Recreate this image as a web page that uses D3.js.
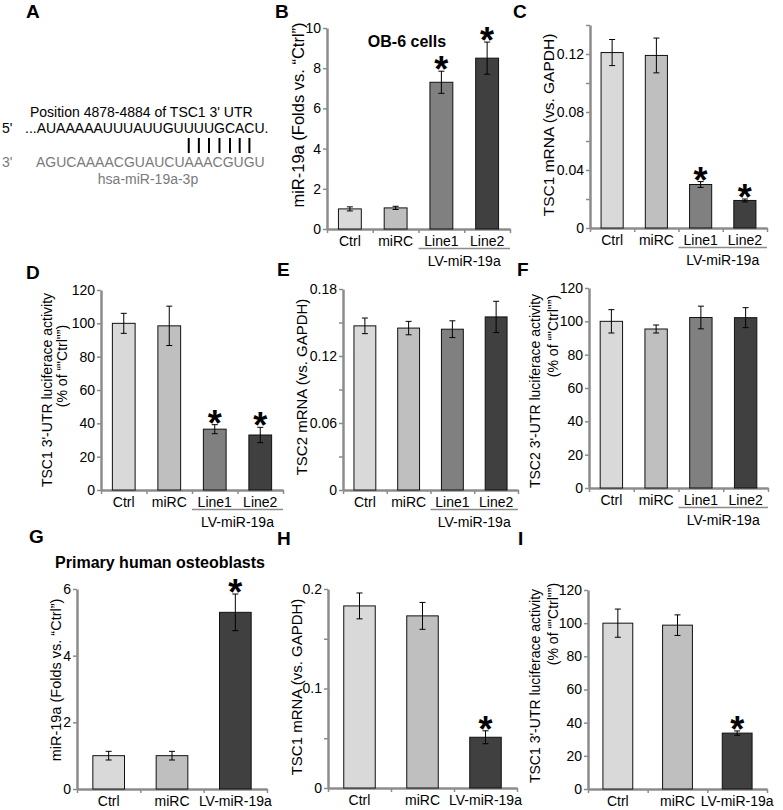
<!DOCTYPE html>
<html><head><meta charset="utf-8">
<script src="https://cdn.jsdelivr.net/npm/d3@7"></script>
<style>
body{margin:0;background:#fff}
text{font-family:Arial,"Liberation Sans",sans-serif;fill:#000}
</style>
</head><body>
<svg id="fig" width="783" height="810"></svg>
<script>
// ---------------- DATA ----------------
const catsOB = ["Ctrl", "miRC", "Line1", "Line2"];
const catsPrim = ["Ctrl", "miRC", "LV-miR-19a"];
const colorsOB = ["#d9d9d9", "#bfbfbf", "#808080", "#404040"];
const colorsPrim = ["#d9d9d9", "#bfbfbf", "#404040"];
const groupLabel = "LV-miR-19a";

// B: miR-19a in OB-6 cells
const mir19aOB = [1.0, 1.05, 7.3, 8.5];
const mir19aOBErr = [0.1, 0.08, 0.55, 0.8];
const mir19aOBSig = [false, false, true, true];
const mir19aOBTicks = [0, 2, 4, 6, 8, 10];

// C: TSC1 mRNA in OB-6
const tsc1OB = [0.121, 0.119, 0.030, 0.019];
const tsc1OBErr = [0.009, 0.012, 0.002, 0.001];
const tsc1OBSig = [false, false, true, true];
const tsc1OBTicks = [0, 0.04, 0.08, 0.12];
const tsc1OBMinor = [0.02, 0.06, 0.10, 0.14];

// D: TSC1 3'-UTR luciferase in OB-6
const tsc1LucOB = [100, 98.5, 36.5, 33];
const tsc1LucOBErr = [6, 11.8, 2.7, 4.6];
const tsc1LucOBSig = [false, false, true, true];
const pctTicks = [0, 20, 40, 60, 80, 100, 120];

// E: TSC2 mRNA in OB-6
const tsc2OB = [0.147, 0.145, 0.144, 0.155];
const tsc2OBErr = [0.007, 0.006, 0.0075, 0.014];
const tsc2OBSig = [false, false, false, false];
const tsc2OBTicks = [0, 0.06, 0.12, 0.18];
const tsc2OBMinor = [0.03, 0.09, 0.15];

// F: TSC2 3'-UTR luciferase in OB-6
const tsc2LucOB = [100, 95.4, 102.3, 102.2];
const tsc2LucOBErr = [7, 2.4, 6.8, 6];
const tsc2LucOBSig = [false, false, false, false];

// G: miR-19a in primary human osteoblasts
const mir19aPrim = [1.0, 1.0, 5.3];
const mir19aPrimErr = [0.13, 0.13, 0.55];
const mir19aPrimSig = [false, false, true];
const mir19aPrimTicks = [0, 2, 4, 6];

// H: TSC1 mRNA in primary osteoblasts
const tsc1Prim = [0.183, 0.173, 0.051];
const tsc1PrimErr = [0.013, 0.0135, 0.0065];
const tsc1PrimSig = [false, false, true];
const tsc1PrimTicks = [0, 0.1, 0.2];
const tsc1PrimMinor = [0.05, 0.15];

// I: TSC1 3'-UTR luciferase in primary osteoblasts
const tsc1LucPrim = [100, 98.8, 33.7];
const tsc1LucPrimErr = [8.5, 6.2, 1.3];
const tsc1LucPrimSig = [false, false, true];

// Panel A sequence texts
const seqTitle = "Position 4878-4884 of TSC1 3' UTR";
const seqTop = "...AUAAAAAUUUAUUGUUUUGCACU.";
const seqBottom = "AGUCAAAACGUAUCUAAACGUGU";
const seqMirName = "hsa-miR-19a-3p";
const pairedIdx = [18, 19, 20, 21, 22, 23, 24];

// ---------------- DRAWING ----------------
const svg = d3.select("#fig");
const AXIS = "#8c8c8c";

function panel(o) {
  const g = svg.append("g");
  const n = o.cats.length;
  const x = d3.scaleBand().domain(o.cats).range([o.x0, o.x1]).paddingInner(0.5).paddingOuter(0.25);
  const y = d3.scaleLinear().domain(o.domain).range([o.y0, o.yTop]);
  const rows = o.cats.map((c, i) => ({c, v: o.vals[i], e: o.errs[i], s: o.sig[i], col: o.colors[i]}));

  // y axis
  const allTicks = o.labeled.concat(o.minor || []).sort((a, b) => a - b);
  const yAx = g.append("g").attr("transform", `translate(${o.x0},0)`)
    .call(d3.axisLeft(y).tickValues(allTicks).tickSize(4).tickSizeOuter(0).tickPadding(2)
      .tickFormat(d => o.labeled.some(t => Math.abs(t - d) < 1e-9) ? o.fmt(d) : ""));
  yAx.select(".domain").attr("stroke", AXIS).attr("stroke-width", 2.5);
  yAx.selectAll(".tick line").attr("stroke", AXIS).attr("stroke-width", 1.5);
  yAx.selectAll(".tick text").attr("font-size", 14).attr("font-family", "Arial, 'Liberation Sans', sans-serif").attr("fill", "#000");

  // x axis with ticks at category boundaries
  const xb = d3.scaleLinear().domain([0, n]).range([o.x0, o.x1]);
  const xAx = g.append("g").attr("transform", `translate(0,${o.y0})`)
    .call(d3.axisBottom(xb).tickValues(d3.range(n + 1)).tickSize(4).tickSizeOuter(0).tickFormat(""));
  xAx.select(".domain").attr("stroke", AXIS).attr("stroke-width", 2.5);
  xAx.selectAll(".tick line").attr("stroke", AXIS).attr("stroke-width", 1.5);

  // bars
  g.selectAll("rect.bar").data(rows).join("rect").attr("class", "bar")
    .attr("x", d => x(d.c)).attr("width", x.bandwidth())
    .attr("y", d => y(d.v)).attr("height", d => y(0) - y(d.v))
    .attr("fill", d => d.col).attr("stroke", "#111").attr("stroke-width", 1);

  // error bars
  const cap = 3;
  const eb = g.selectAll("g.err").data(rows).join("g").attr("class", "err")
    .attr("transform", d => `translate(${x(d.c) + x.bandwidth() / 2},0)`);
  eb.append("line").attr("y1", d => y(d.v - d.e)).attr("y2", d => y(d.v + d.e)).attr("stroke", "#000");
  eb.append("line").attr("x1", -cap).attr("x2", cap).attr("y1", d => y(d.v + d.e)).attr("y2", d => y(d.v + d.e)).attr("stroke", "#000");
  eb.append("line").attr("x1", -cap).attr("x2", cap).attr("y1", d => y(d.v - d.e)).attr("y2", d => y(d.v - d.e)).attr("stroke", "#000");

  // significance stars
  g.selectAll("text.star").data(rows.filter(d => d.s)).join("text").attr("class", "star")
    .attr("x", d => x(d.c) + x.bandwidth() / 2).attr("y", d => y(d.v + d.e) + 11)
    .attr("text-anchor", "middle").attr("font-size", 36).attr("font-weight", "bold").text("*");

  // category labels
  g.selectAll("text.cat").data(rows).join("text").attr("class", "cat")
    .attr("x", d => x(d.c) + x.bandwidth() / 2).attr("y", o.y0 + 17)
    .attr("text-anchor", "middle").attr("font-size", 14).text(d => d.c);

  // group label
  if (o.group) {
    const gx0 = xb(2), gx1 = xb(4);
    g.append("line").attr("x1", gx0).attr("x2", gx1).attr("y1", o.y0 + 19.5).attr("y2", o.y0 + 19.5)
      .attr("stroke", AXIS).attr("stroke-width", 1.5);
    g.append("text").attr("x", (gx0 + gx1) / 2).attr("y", o.y0 + 37).attr("text-anchor", "middle")
      .attr("font-size", 14).text(groupLabel);
  }

  // y label (one or two lines)
  o.ylab.forEach((l, i) => {
    g.append("text").attr("transform", `translate(${l.x},${l.y}) rotate(-90)`)
      .attr("text-anchor", "middle").attr("dy", "0.35em").attr("font-size", l.fs || 15).text(l.t);
  });

  // title
  if (o.title) {
    g.append("text").attr("x", o.title.x).attr("y", o.title.y).attr("text-anchor", "middle")
      .attr("font-size", 16).attr("font-weight", "bold").text(o.title.t);
  }
}

const f0 = d => d3.format("")(d);
const fdec = d => d === 0 ? "0" : String(+d.toFixed(3));

panel({cats: catsOB, vals: mir19aOB, errs: mir19aOBErr, sig: mir19aOBSig, colors: colorsOB,
  domain: [0, 10], labeled: mir19aOBTicks, fmt: f0, x0: 327, x1: 510, y0: 229, yTop: 28, group: true,
  ylab: [{t: "miR-19a (Folds vs. \u201cCtrl\u201d)", x: 298, y: 115, fs: 16.5}],
  title: {t: "OB-6 cells", x: 407, y: 47}});

panel({cats: catsOB, vals: tsc1OB, errs: tsc1OBErr, sig: tsc1OBSig, colors: colorsOB,
  domain: [0, 0.14], labeled: tsc1OBTicks, minor: tsc1OBMinor, fmt: fdec, x0: 590, x1: 767, y0: 228, yTop: 25, group: true,
  ylab: [{t: "TSC1 mRNA (vs. GAPDH)", x: 549, y: 125, fs: 15.5}]});

panel({cats: catsOB, vals: tsc1LucOB, errs: tsc1LucOBErr, sig: tsc1LucOBSig, colors: colorsOB,
  domain: [0, 120], labeled: pctTicks, fmt: f0, x0: 101, x1: 283, y0: 490, yTop: 290, group: true,
  ylab: [{t: "TSC1 3'-UTR luciferace activity", x: 47, y: 390, fs: 14},
         {t: "(% of \u201c\"Ctrl\"\u201d)", x: 62, y: 366, fs: 14}]});

panel({cats: catsOB, vals: tsc2OB, errs: tsc2OBErr, sig: tsc2OBSig, colors: colorsOB,
  domain: [0, 0.18], labeled: tsc2OBTicks, minor: tsc2OBMinor, fmt: fdec, x0: 343, x1: 518, y0: 490, yTop: 289, group: true,
  ylab: [{t: "TSC2 mRNA (vs. GAPDH)", x: 302, y: 387, fs: 15}]});

panel({cats: catsOB, vals: tsc2LucOB, errs: tsc2LucOBErr, sig: tsc2LucOBSig, colors: colorsOB,
  domain: [0, 120], labeled: pctTicks, fmt: f0, x0: 589, x1: 768, y0: 488, yTop: 288, group: true,
  ylab: [{t: "TSC2 3'-UTR luciferace activity", x: 535, y: 391, fs: 14},
         {t: "(% of \u201c\"Ctrl\"\u201d)", x: 553, y: 336, fs: 14}]});

panel({cats: catsPrim, vals: mir19aPrim, errs: mir19aPrimErr, sig: mir19aPrimSig, colors: colorsPrim,
  domain: [0, 6], labeled: mir19aPrimTicks, fmt: f0, x0: 77, x1: 267, y0: 789, yTop: 589, group: false,
  ylab: [{t: "miR-19a (Folds vs. \u201cCtrl\u201d)", x: 56, y: 680, fs: 14.5}],
  title: {t: "Primary human osteoblasts", x: 160, y: 568}});

panel({cats: catsPrim, vals: tsc1Prim, errs: tsc1PrimErr, sig: tsc1PrimSig, colors: colorsPrim,
  domain: [0, 0.2], labeled: tsc1PrimTicks, minor: tsc1PrimMinor, fmt: fdec, x0: 328, x1: 517, y0: 788, yTop: 589, group: false,
  ylab: [{t: "TSC1 mRNA (vs. GAPDH)", x: 297, y: 687, fs: 15}]});

panel({cats: catsPrim, vals: tsc1LucPrim, errs: tsc1LucPrimErr, sig: tsc1LucPrimSig, colors: colorsPrim,
  domain: [0, 120], labeled: pctTicks, fmt: f0, x0: 588, x1: 767, y0: 789, yTop: 590, group: false,
  ylab: [{t: "TSC1 3'-UTR luciferace activity", x: 535, y: 686, fs: 14},
         {t: "(% of \u201c\"Ctrl\"\u201d)", x: 553, y: 624, fs: 14}]});

// ---------------- Panel A ----------------
const gA = svg.append("g");
gA.append("text").attr("x", 30).attr("y", 117).attr("font-size", 14).text(seqTitle);
gA.append("text").attr("x", 2).attr("y", 133).attr("font-size", 14).text("5'");
const topT = gA.append("text").attr("x", 25).attr("y", 133).attr("font-size", 14).text(seqTop);
gA.append("text").attr("x", 2).attr("y", 167).attr("font-size", 14).style("fill", "#7a7a7a").text("3'");
gA.append("text").attr("x", 36).attr("y", 167).attr("font-size", 14).style("fill", "#7a7a7a").text(seqBottom);
gA.append("text").attr("x", 148).attr("y", 184).attr("font-size", 14).attr("text-anchor", "middle").style("fill", "#7a7a7a").text(seqMirName);
const node = topT.node();
const centers = pairedIdx.map(i => {
  const s = node.getStartPositionOfChar(i).x, e = node.getEndPositionOfChar(i).x;
  return (s + e) / 2;
});
gA.selectAll("line.pair").data(centers).join("line").attr("class", "pair")
  .attr("x1", d => d).attr("x2", d => d).attr("y1", 138).attr("y2", 153)
  .attr("stroke", "#000").attr("stroke-width", 2);

// ---------------- Panel letters ----------------
const letters = [
  {t: "A", x: 26, y: 18}, {t: "B", x: 275, y: 18}, {t: "C", x: 513, y: 18},
  {t: "D", x: 26, y: 279}, {t: "E", x: 277, y: 276}, {t: "F", x: 517, y: 276},
  {t: "G", x: 29, y: 543}, {t: "H", x: 277, y: 545}, {t: "I", x: 518, y: 545}
];
svg.selectAll("text.letter").data(letters).join("text").attr("class", "letter")
  .attr("x", d => d.x).attr("y", d => d.y).attr("font-size", 19).attr("font-weight", "bold").text(d => d.t);
</script>
</body></html>
